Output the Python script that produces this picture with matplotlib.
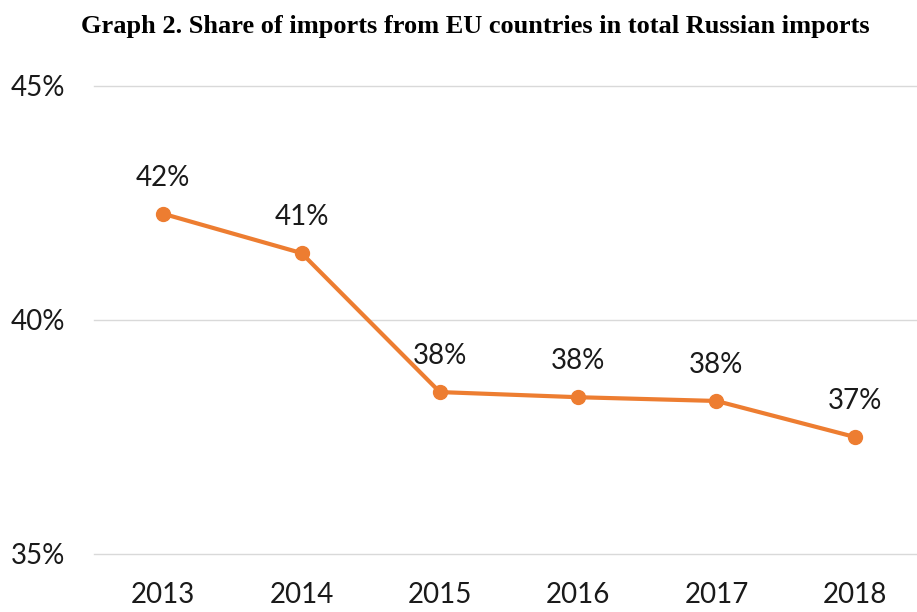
import matplotlib.pyplot as plt
from matplotlib.ticker import FuncFormatter

years = ['2013', '2014', '2015', '2016', '2017', '2018']
share = [42.27, 41.43, 38.46, 38.35, 38.27, 37.50]
labels = ['42%', '41%', '38%', '38%', '38%', '37%']

plt.rcParams['font.family'] = ['Lato', 'DejaVu Sans']

fig = plt.figure(figsize=(9.17, 6.12), dpi=100)
ax = fig.add_axes([94 / 917, 1 - 554 / 612, 830 / 917, 468 / 612])

x = range(len(years))
ax.plot(x, share, color='#ED7D31', lw=3, marker='o', markersize=10, zorder=3)
for xi, yi, lab in zip(x, share, labels):
    ax.annotate(lab, (xi, yi), xytext=(0, 26), textcoords='offset points',
                ha='center', va='center', fontsize=20, color='#1a1a1a')

ax.set_xlim(-0.5, 5.5)
ax.set_ylim(35, 45)
ax.set_yticks([35, 40, 45])
ax.yaxis.set_major_formatter(FuncFormatter(lambda v, p: f'{v:.0f}%'))
ax.set_xticks(list(x))
ax.set_xticklabels(years)
ax.tick_params(length=0, labelsize=20, labelcolor='#1a1a1a')
ax.tick_params(axis='x', pad=20)
ax.tick_params(axis='y', pad=21)
ax.grid(axis='y', color='#D9D9D9', lw=1)
for gl in ax.get_ygridlines():
    gl.set_clip_on(False)
ax.set_axisbelow(True)
for s in ax.spines.values():
    s.set_visible(False)

fig.text(0.518, 1 - 27 / 612, 'Graph 2. Share of imports from EU countries in total Russian imports',
         ha='center', va='center', fontsize=19, fontweight='bold',
         family=['Liberation Serif', 'DejaVu Serif'])

fig.savefig('out.png', dpi=100)
